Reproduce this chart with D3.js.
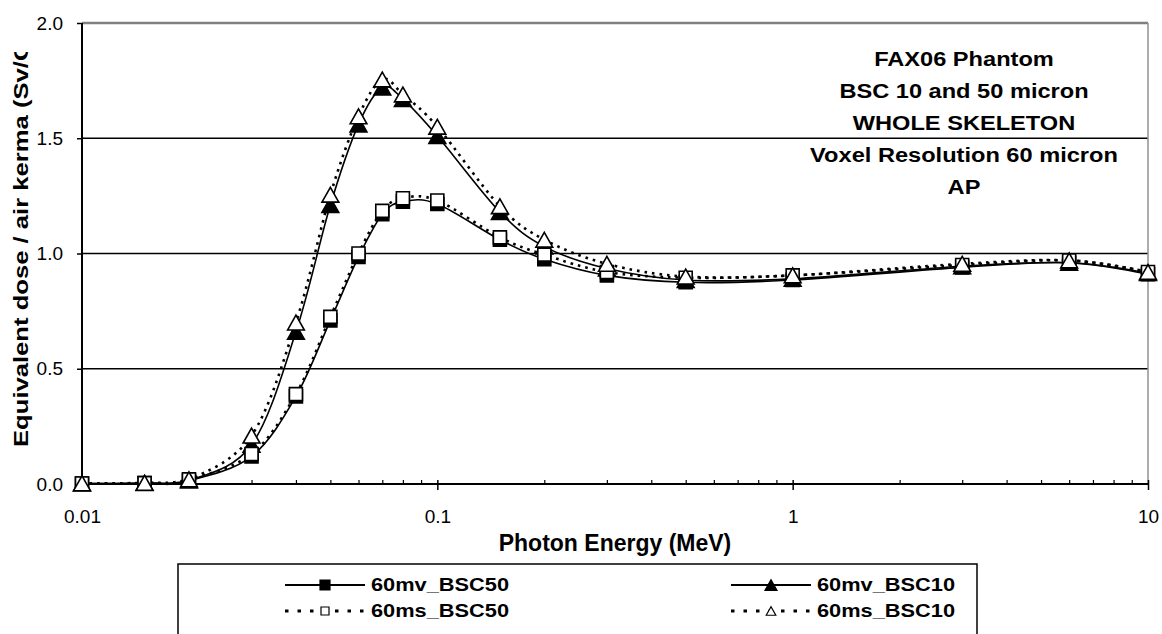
<!DOCTYPE html>
<html>
<head>
<meta charset="utf-8">
<script src="https://cdn.jsdelivr.net/npm/d3@7"></script>
<style>
  body { margin: 0; background: #fff; }
  svg { display: block; font-family: "Liberation Sans", Arial, sans-serif; }
</style>
</head>
<body>
<div id="chart"></div>
<script>
// photon energies (MeV)
const energies = [0.01, 0.015, 0.02, 0.03, 0.04, 0.05, 0.06, 0.07, 0.08, 0.1, 0.15, 0.2, 0.3, 0.5, 1, 3, 6, 10];

// equivalent dose / air kerma
const mvBSC50 = [0.002, 0.004, 0.015, 0.12, 0.38, 0.71, 0.985, 1.17, 1.225, 1.215, 1.06, 0.975, 0.905, 0.875, 0.885, 0.94, 0.96, 0.91];
const mvBSC10 = [0.002, 0.004, 0.015, 0.17, 0.66, 1.21, 1.56, 1.72, 1.67, 1.51, 1.18, 1.03, 0.935, 0.885, 0.89, 0.945, 0.96, 0.915];
const msBSC50 = [0.002, 0.004, 0.02, 0.13, 0.39, 0.725, 1.0, 1.185, 1.24, 1.23, 1.07, 0.995, 0.92, 0.895, 0.905, 0.95, 0.97, 0.92];
const msBSC10 = [0.003, 0.005, 0.02, 0.21, 0.70, 1.255, 1.595, 1.755, 1.69, 1.55, 1.205, 1.06, 0.955, 0.90, 0.905, 0.955, 0.97, 0.92];

const seriesNames = ['60mv_BSC50', '60mv_BSC10', '60ms_BSC50', '60ms_BSC10'];
const titleLines = ['FAX06 Phantom', 'BSC 10 and 50 micron', 'WHOLE SKELETON', 'Voxel Resolution 60 micron', 'AP'];
const yTicks = [0, 0.5, 1, 1.5, 2];
const xTicks = [0.01, 0.1, 1, 10];
const xTitle = 'Photon Energy (MeV)';
const yTitle = 'Equivalent dose / air kerma (Sv/Gy)';

// --- layout -------------------------------------------------------
const W = 1162, H = 634;
const M = { left: 82, right: 1148, top: 23, bottom: 484 };
const FONT = '"Liberation Sans", Arial, sans-serif';

// draw style per series, same order as seriesNames
const styles = [
  { marker: 'square',   filled: true,  dotted: false },
  { marker: 'triangle', filled: true,  dotted: false },
  { marker: 'square',   filled: false, dotted: true },
  { marker: 'triangle', filled: false, dotted: true },
];
const seriesValues = [mvBSC50, mvBSC10, msBSC50, msBSC10];
const series = seriesNames.map((name, i) => ({
  name,
  points: energies.map((e, j) => [e, seriesValues[i][j]]),
  ...styles[i],
}));

const svg = d3.select('#chart').append('svg')
  .attr('width', W).attr('height', H);
svg.append('rect').attr('width', W).attr('height', H).attr('fill', '#fff');

const x = d3.scaleLog().domain([0.01, 10]).range([M.left, M.right]);
const y = d3.scaleLinear().domain([0, 2]).range([M.bottom, M.top]);

// gridlines (black, Excel style)
svg.append('g').selectAll('line')
  .data(yTicks.filter(d => d > 0 && d < 2))
  .join('line')
  .attr('x1', M.left).attr('x2', M.right)
  .attr('y1', d => y(d)).attr('y2', d => y(d))
  .attr('stroke', '#000').attr('stroke-width', 1.5);

// plot area border top / right (grey)
svg.append('line')
  .attr('x1', M.left).attr('x2', M.right).attr('y1', M.top).attr('y2', M.top)
  .attr('stroke', '#808080').attr('stroke-width', 2.5);
svg.append('line')
  .attr('x1', M.right).attr('x2', M.right).attr('y1', M.top).attr('y2', M.bottom)
  .attr('stroke', '#909090').attr('stroke-width', 1.5);

// — axes ————————————————————————————————————————————————
const yAxis = d3.axisLeft(y).tickValues(yTicks).tickFormat(d3.format('.1f'))
  .tickSize(5).tickPadding(14);
const gy = svg.append('g').attr('transform', `translate(${M.left},0)`).call(yAxis);
gy.attr('font-size', 19).attr('font-family', FONT);
gy.select('.domain').remove();
gy.selectAll('.tick line').attr('stroke', '#000').attr('stroke-width', 1.5);
gy.selectAll('.tick text').attr('fill', '#000');

const minorTicks = [];
[0.01, 0.1, 1].forEach(dec => {
  for (let k = 2; k <= 9; k++) minorTicks.push(dec * k);
});
const gxMinor = svg.append('g').attr('transform', `translate(0,${M.bottom})`)
  .call(d3.axisBottom(x).tickValues(minorTicks).tickFormat('').tickSize(-4));
gxMinor.select('.domain').remove();
gxMinor.selectAll('.tick line').attr('stroke', '#000').attr('stroke-width', 1.2);

const xAxis = d3.axisBottom(x).tickValues(xTicks).tickFormat(d => String(d))
  .tickSize(6).tickPadding(19.5);
const gx = svg.append('g').attr('transform', `translate(0,${M.bottom})`).call(xAxis);
gx.attr('font-size', 19).attr('font-family', FONT);
gx.select('.domain').remove();
gx.selectAll('.tick line').attr('y1', -4).attr('stroke', '#000').attr('stroke-width', 1.5);
gx.selectAll('.tick text').attr('fill', '#000');

// axis lines
svg.append('line')
  .attr('x1', M.left).attr('x2', M.left).attr('y1', M.top).attr('y2', M.bottom + 1)
  .attr('stroke', '#000').attr('stroke-width', 2);
svg.append('line')
  .attr('x1', M.left - 1).attr('x2', M.right).attr('y1', M.bottom).attr('y2', M.bottom)
  .attr('stroke', '#000').attr('stroke-width', 2);

// — curves ————————————————————————————————————————————————
const line = d3.line()
  .x(d => x(d[0])).y(d => y(d[1]))
  .curve(d3.curveCardinal.tension(0));

svg.append('g').selectAll('path')
  .data(series)
  .join('path')
  .attr('d', d => line(d.points))
  .attr('fill', 'none')
  .attr('stroke', '#000')
  .attr('stroke-width', d => d.dotted ? 2.6 : 1.6)
  .attr('stroke-dasharray', d => d.dotted ? '2.6,5' : null);

function markerPath(type, cx, cy, s) {
  if (type === 'square') {
    const h = s / 2;
    return `M${cx - h},${cy - h}H${cx + h}V${cy + h}H${cx - h}Z`;
  }
  const w = s * 0.6, h = s * 0.53;
  return `M${cx - w},${cy + h}L${cx},${cy - h}L${cx + w},${cy + h}Z`;
}

series.forEach(s => {
  svg.append('g').selectAll('path')
    .data(s.points)
    .join('path')
    .attr('d', d => markerPath(s.marker, x(d[0]), y(d[1]), s.marker === 'square' ? 13 : 14))
    .attr('fill', s.filled ? '#000' : '#fff')
    .attr('stroke', '#000')
    .attr('stroke-width', 1.6)
    .attr('stroke-linejoin', 'miter');
});

// — titles ————————————————————————————————————————————————
// Excel stretched the text boxes; mimic with textLength
function stretch(sel, factor) {
  sel.each(function () {
    const len = this.getComputedTextLength();
    d3.select(this).attr('textLength', len * factor).attr('lengthAdjust', 'spacingAndGlyphs');
  });
}

const tl = svg.append('g').attr('font-family', FONT).attr('font-weight', 'bold')
  .attr('font-size', 20).attr('text-anchor', 'middle');
tl.selectAll('text')
  .data(titleLines)
  .join('text')
  .attr('x', 964)
  .attr('y', (d, i) => 66 + i * 32)
  .text(d => d)
  .call(stretch, 1.18);

svg.append('text')
  .attr('x', (M.left + M.right) / 2).attr('y', 551)
  .attr('text-anchor', 'middle')
  .attr('font-family', FONT).attr('font-weight', 'bold').attr('font-size', 23)
  .text(xTitle);

svg.append('clipPath').attr('id', 'yclip')
  .append('rect').attr('x', 0).attr('y', 52).attr('width', 80).attr('height', H);
svg.append('g').attr('clip-path', 'url(#yclip)')
  .append('text')
  .attr('transform', 'translate(28,447) rotate(-90)')
  .attr('font-family', FONT).attr('font-weight', 'bold').attr('font-size', 21)
  .text(yTitle)
  .call(stretch, 1.22);

// — legend ————————————————————————————————————————————————
const legend = svg.append('g').attr('font-family', FONT).attr('font-weight', 'bold').attr('font-size', 18);
legend.append('rect')
  .attr('x', 178).attr('y', 564).attr('width', 799).attr('height', 100)
  .attr('fill', '#fff').attr('stroke', '#000').attr('stroke-width', 1.5);

const colX = [285, 731];
const rowY = [585, 611];
series.forEach((s, i) => {
  const cx = colX[i % 2], cy = rowY[Math.floor(i / 2)];
  const g = legend.append('g');
  g.append('line')
    .attr('x1', cx).attr('x2', cx + 80).attr('y1', cy).attr('y2', cy)
    .attr('stroke', '#000')
    .attr('stroke-width', s.dotted ? 3 : 2)
    .attr('stroke-dasharray', s.dotted ? '3.5,9' : null);
  g.append('path')
    .attr('d', markerPath(s.marker, cx + 40, cy, s.filled ? 10 : 8))
    .attr('fill', s.filled ? '#000' : '#fff')
    .attr('stroke', '#000').attr('stroke-width', 1.2);
  g.append('text')
    .attr('x', cx + 86).attr('y', cy).attr('dy', '0.36em')
    .attr('textLength', 138).attr('lengthAdjust', 'spacingAndGlyphs')
    .text(s.name);
});
</script>
</body>
</html>
